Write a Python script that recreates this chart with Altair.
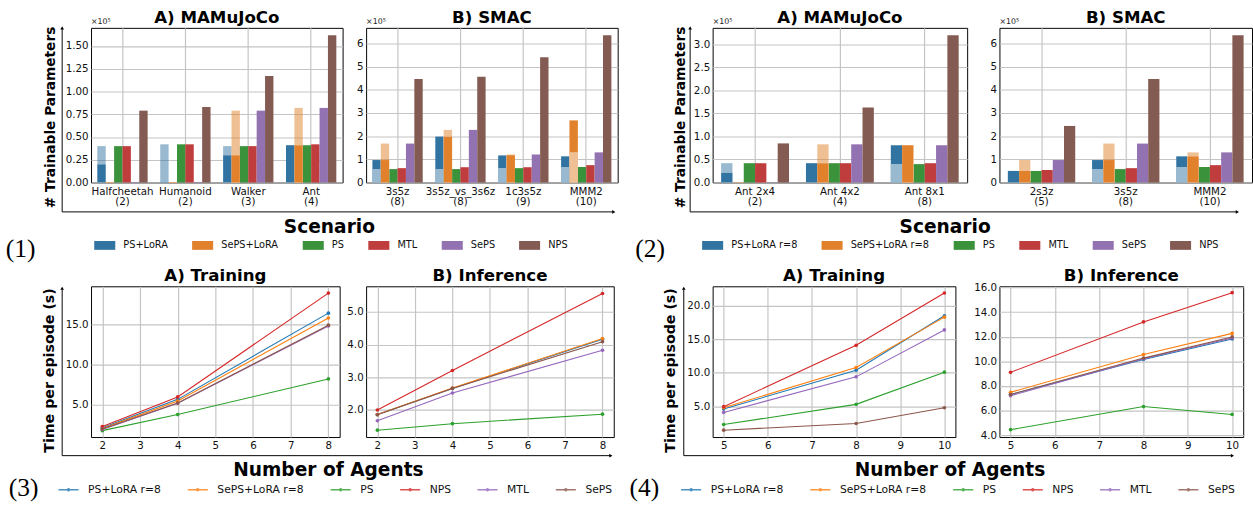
import altair as alt
import pandas as pd

FONT = "DejaVu Sans"
SERIF = "Liberation Serif"

# ---------------- data ----------------
BAR_METHODS_1 = ["PS+LoRA", "SePS+LoRA", "PS", "MTL", "SePS", "NPS"]
BAR_METHODS_2 = ["PS+LoRA r=8", "SePS+LoRA r=8", "PS", "MTL", "SePS", "NPS"]
LINE_METHODS = ["PS+LoRA r=8", "SePS+LoRA r=8", "PS", "NPS", "MTL", "SePS"]

BAR_COLORS = ["#3274a1", "#e1812c", "#3a923a", "#c03d3e", "#9372b2", "#845b53"]
LINE_COLORS = ["#1f77b4", "#ff7f0e", "#2ca02c", "#d62728", "#9467bd", "#8c564b"]

# (1) A) MAMuJoCo  (values x1e5)
S1A = ["Halfcheetah\n(2)", "Humanoid\n(2)", "Walker\n(3)", "Ant\n(4)"]
S1A_PSLORA_DARK = [0.20, 0.006, 0.30, 0.41]
S1A_PSLORA_LIGHT = [0.40, 0.42, 0.40, 0.41]
S1A_SEPSLORA_DARK = [0.006, 0.006, 0.30, 0.41]
S1A_SEPSLORA_LIGHT = [0.006, 0.006, 0.79, 0.82]
S1A_PS = [0.40, 0.42, 0.40, 0.41]
S1A_MTL = [0.40, 0.42, 0.40, 0.42]
S1A_SEPS = [0.006, 0.006, 0.79, 0.82]
S1A_NPS = [0.79, 0.83, 1.17, 1.62]

# (1) B) SMAC
S1B = ["3s5z\n(8)", "3s5z_vs_3s6z\n(8)", "1c3s5z\n(9)", "MMM2\n(10)"]
S1B_PSLORA_DARK = [0.97, 1.98, 1.17, 1.13]
S1B_PSLORA_LIGHT = [0.58, 0.58, 0.62, 0.67]
S1B_SEPSLORA_DARK = [0.97, 1.98, 1.18, 2.68]
S1B_SEPSLORA_LIGHT = [1.68, 2.27, 1.21, 1.30]
S1B_PS = [0.58, 0.58, 0.62, 0.67]
S1B_MTL = [0.62, 0.66, 0.66, 0.75]
S1B_SEPS = [1.68, 2.27, 1.21, 1.30]
S1B_NPS = [4.47, 4.56, 5.40, 6.35]

# (2) A) MAMuJoCo
S2A = ["Ant 2x4\n(2)", "Ant 4x2\n(4)", "Ant 8x1\n(8)"]
S2A_PSLORA_DARK = [0.21, 0.42, 0.81]
S2A_PSLORA_LIGHT = [0.42, 0.42, 0.40]
S2A_SEPSLORA_DARK = [0.006, 0.42, 0.81]
S2A_SEPSLORA_LIGHT = [0.006, 0.83, 0.81]
S2A_PS = [0.42, 0.42, 0.40]
S2A_MTL = [0.42, 0.42, 0.42]
S2A_SEPS = [0.006, 0.83, 0.81]
S2A_NPS = [0.85, 1.63, 3.20]

# (2) B) SMAC
S2B = ["2s3z\n(5)", "3s5z\n(8)", "MMM2\n(10)"]
S2B_PSLORA_DARK = [0.50, 0.97, 1.13]
S2B_PSLORA_LIGHT = [0.50, 0.58, 0.67]
S2B_SEPSLORA_DARK = [0.50, 0.97, 1.13]
S2B_SEPSLORA_LIGHT = [0.97, 1.68, 1.30]
S2B_PS = [0.50, 0.58, 0.67]
S2B_MTL = [0.54, 0.62, 0.75]
S2B_SEPS = [0.97, 1.68, 1.30]
S2B_NPS = [2.44, 4.47, 6.35]

# (3) time per episode, agents 2/4/8
AGENTS_3 = [2, 4, 8]
TRAIN_3 = {
    "PS+LoRA r=8": [2.10, 5.65, 16.40],
    "SePS+LoRA r=8": [2.00, 5.45, 15.80],
    "PS": [1.75, 3.75, 8.20],
    "NPS": [2.25, 5.95, 18.90],
    "MTL": [1.90, 5.15, 14.80],
    "SePS": [1.95, 5.20, 14.90],
}
INFER_3 = {
    "PS+LoRA r=8": [1.86, 2.66, 4.17],
    "SePS+LoRA r=8": [1.86, 2.67, 4.19],
    "PS": [1.38, 1.58, 1.87],
    "NPS": [2.00, 3.21, 5.57],
    "MTL": [1.67, 2.52, 3.83],
    "SePS": [1.85, 2.66, 4.09],
}
# (4) agents 5/8/10
AGENTS_4 = [5, 8, 10]
TRAIN_4 = {
    "PS+LoRA r=8": [4.60, 10.40, 18.50],
    "SePS+LoRA r=8": [4.80, 10.80, 18.30],
    "PS": [2.30, 5.30, 10.10],
    "NPS": [4.96, 14.10, 21.90],
    "MTL": [4.10, 9.40, 16.40],
    "SePS": [1.45, 2.45, 4.80],
}
INFER_4 = {
    "PS+LoRA r=8": [7.30, 10.15, 11.82],
    "SePS+LoRA r=8": [7.48, 10.55, 12.27],
    "PS": [4.44, 6.32, 5.68],
    "NPS": [9.10, 13.20, 15.58],
    "MTL": [7.20, 10.20, 11.90],
    "SePS": [7.30, 10.26, 11.98],
}

# ---------------- helpers ----------------
def bar_frame(scen, methods, psd, psl, sepsd, sepsl, ps, mtl, seps, nps):
    rows = []
    for i, s in enumerate(scen):
        for m, d, l in [(methods[0], psd[i], psl[i]), (methods[1], sepsd[i], sepsl[i])]:
            if d > l:
                back, front = ("dark", d), ("light", l)
            else:
                back, front = ("light", l), ("dark", d)
            rows.append(dict(scen=s, method=m, layer="back", shade=back[0], value=back[1]))
            rows.append(dict(scen=s, method=m, layer="front", shade=front[0], value=front[1]))
        for m, arr in zip(methods[2:], [ps, mtl, seps, nps]):
            rows.append(dict(scen=s, method=m, layer="back", shade="dark", value=arr[i]))
    return pd.DataFrame(rows)


def line_frame(agents, d):
    rows = []
    for m in LINE_METHODS:
        for a, v in zip(agents, d[m]):
            rows.append(dict(agents=a, method=m, value=v))
    return pd.DataFrame(rows)


ONE = pd.DataFrame({"k": [0]})
GRID = "#c4c4c4"


def axis_common(**kw):
    base = dict(labelFont=FONT, labelFontSize=10.5, labelColor="#111", ticks=False,
                domain=False, grid=True, gridColor=GRID, gridWidth=1.2,
                titleFont=FONT, titleColor="black", titleFontWeight="bold")
    base.update(kw)
    return alt.Axis(**base)


def panel_title(text, width):
    return alt.Chart(ONE).mark_text(font=FONT, fontSize=17, fontWeight="bold", color="black",
                                    align="center", baseline="alphabetic").encode(
        x=alt.value(width / 2), y=alt.value(-5), text=alt.value(text))


def deco(px, py, vx, vtop, hy, hend, label=None, lx=0, ly=0, anchor=False):
    """Figure decorations (arrowed axes, subfigure label) relative to panel origin."""
    layers = []
    layers.append(alt.Chart(ONE).mark_rule(color="black", strokeWidth=1).encode(
        x=alt.value(vx - px), y=alt.value(vtop - py + 3), y2=alt.value(hy - py)))
    layers.append(alt.Chart(ONE).mark_rule(color="black", strokeWidth=1).encode(
        x=alt.value(vx - px), x2=alt.value(hend - px - 3), y=alt.value(hy - py)))
    layers.append(alt.Chart(ONE).mark_point(shape="triangle-up", filled=True, color="black",
                                            size=14, opacity=1).encode(
        x=alt.value(vx - px), y=alt.value(vtop - py + 2)))
    layers.append(alt.Chart(ONE).mark_point(shape="triangle-right", filled=True, color="black",
                                            size=14, opacity=1).encode(
        x=alt.value(hend - px - 2), y=alt.value(hy - py)))
    if label:
        layers.append(alt.Chart(ONE).mark_text(font=SERIF, fontSize=26, align="left",
                                               baseline="alphabetic", color="black").encode(
            x=alt.value(lx - px), y=alt.value(ly - py), text=alt.value(label)))
    if anchor:
        layers.append(alt.Chart(ONE).mark_rule(strokeOpacity=0, color="white").encode(
            x=alt.value(-px), y=alt.value(-py), y2=alt.value(-py + 1)))
    return layers


def bar_panel(df, scen, methods, title, ymax, yticks, yfmt, width, height,
              legend=None, ytitle=None, ytitle_xy=(0, 0), xtitle=None, xtitle_xy=(0, 0),
              extra=None):
    xaxis = axis_common(labelExpr="split(datum.label, '\\n')", labelLineHeight=10.5,
                        labelPadding=4, labelAngle=0, bandPosition=0.5,
                        title=xtitle if xtitle else None, titleFontSize=19,
                        **({"titleX": xtitle_xy[0], "titleY": xtitle_xy[1],
                            "titleAnchor": "middle", "titleBaseline": "alphabetic"} if xtitle else {}))
    yaxis = axis_common(values=yticks, format=yfmt, labelPadding=3,
                        title=ytitle if ytitle else None, titleFontSize=14,
                        **({"titleX": ytitle_xy[0], "titleY": ytitle_xy[1],
                            "titleAngle": 270, "titleBaseline": "bottom",
                            "titleAlign": "center"} if ytitle else {}))
    x = alt.X("scen:N", sort=scen,
              scale=alt.Scale(domain=scen, paddingInner=0.2, paddingOuter=0.1), axis=xaxis)
    xo = alt.XOffset("method:N", sort=methods,
                     scale=alt.Scale(domain=methods, paddingInner=0, paddingOuter=0))
    y = alt.Y("value:Q", scale=alt.Scale(domain=[0, ymax], nice=False, zero=True), axis=yaxis)
    color = alt.Color("method:N", scale=alt.Scale(domain=methods, range=BAR_COLORS),
                      legend=legend)
    opac = alt.Opacity("shade:N", scale=alt.Scale(domain=["dark", "light"], range=[1.0, 0.5]),
                       legend=None)
    base = alt.Chart(df)
    back = base.transform_filter("datum.layer == 'back'").mark_bar().encode(
        x=x, xOffset=xo, y=y, color=color, opacity=opac)
    white = base.transform_filter("datum.layer == 'front'").mark_bar(color="white").encode(
        x=x, xOffset=xo, y=y)
    front = base.transform_filter("datum.layer == 'front'").mark_bar().encode(
        x=x, xOffset=xo, y=y, color=color, opacity=opac)
    offs = alt.Chart(ONE).mark_text(font=FONT, fontSize=8, align="left", baseline="alphabetic",
                                    color="#222").encode(
        x=alt.value(0), y=alt.value(-4), text=alt.value("×10⁵"))
    layers = [back, white, front, offs, panel_title(title, width)] + (extra or [])
    return alt.layer(*layers).properties(width=width, height=height)


def line_panel(df, title, xdom, xticks, ydom, yticks, width, height, legend=None,
               ytitle=None, ytitle_xy=(0, 0), xtitle=None, xtitle_xy=(0, 0), extra=None):
    xaxis = axis_common(values=xticks, format="d", labelPadding=4,
                        title=xtitle if xtitle else None, titleFontSize=19,
                        **({"titleX": xtitle_xy[0], "titleY": xtitle_xy[1],
                            "titleAnchor": "middle", "titleBaseline": "alphabetic"} if xtitle else {}))
    yaxis = axis_common(values=yticks, format=".1f", labelPadding=3,
                        title=ytitle if ytitle else None, titleFontSize=14.5,
                        **({"titleX": ytitle_xy[0], "titleY": ytitle_xy[1],
                            "titleAngle": 270, "titleBaseline": "bottom",
                            "titleAlign": "center"} if ytitle else {}))
    x = alt.X("agents:Q", scale=alt.Scale(domain=xdom, nice=False, zero=False), axis=xaxis)
    y = alt.Y("value:Q", scale=alt.Scale(domain=ydom, nice=False, zero=False), axis=yaxis)
    color = alt.Color("method:N", sort=LINE_METHODS,
                      scale=alt.Scale(domain=LINE_METHODS, range=LINE_COLORS), legend=legend)
    base = alt.Chart(df)
    lines = base.mark_line(strokeWidth=1.1).encode(x=x, y=y, color=color)
    pts = base.mark_point(filled=True, size=14, opacity=1).encode(x=x, y=y, color=color)
    layers = [lines, pts, panel_title(title, width)] + (extra or [])
    return alt.layer(*layers).properties(width=width, height=height)


def spacer(w, h):
    return alt.Chart(ONE).mark_point(opacity=0).encode(
        x=alt.X("k:Q", axis=None), y=alt.Y("k:Q", axis=None)
    ).properties(width=w, height=h, view=alt.ViewBackground(strokeOpacity=0))


BAR_SYMBOL = "M-1,-0.42H1V0.42H-1Z"
LINE_SYMBOL = "M-1,0H1M-0.1,0A0.1,0.1,0,1,1,0.1,0A0.1,0.1,0,1,1,-0.1,0"


def bar_legend(lx, ly):
    return alt.Legend(title=None, orient="none", legendX=lx, legendY=ly, direction="horizontal",
                      columns=6, symbolType=BAR_SYMBOL, symbolSize=462, symbolStrokeWidth=0,
                      symbolOpacity=1, labelFont=FONT, labelFontSize=10, labelColor="#111",
                      labelOffset=8, columnPadding=24, padding=0)


def line_legend(lx, ly):
    return alt.Legend(title=None, orient="none", legendX=lx, legendY=ly, direction="horizontal",
                      columns=6, symbolType=LINE_SYMBOL, symbolSize=420, symbolStrokeWidth=1.5,
                      symbolOpacity=0.8, symbolFillColor="transparent", labelFont=FONT,
                      labelFontSize=11, labelColor="#111", labelOffset=9, columnPadding=23,
                      padding=0)


# ---------------- layout (absolute pixel targets) ----------------
R1Y, R1H = 22, 158
R2Y, R2H = 286, 154
A1X, A1W = 92, 257
B1X, B1W = 366, 257
A2X, A2W = 713, 260
B2X, B2W = 990, 258
T3X, T3W = 89, 254
I3X, I3W = 367, 253
T4X, T4W = 717, 248
I4X, I4W = 998, 249

df1a = bar_frame(S1A, BAR_METHODS_1, S1A_PSLORA_DARK, S1A_PSLORA_LIGHT, S1A_SEPSLORA_DARK,
                 S1A_SEPSLORA_LIGHT, S1A_PS, S1A_MTL, S1A_SEPS, S1A_NPS)
df1b = bar_frame(S1B, BAR_METHODS_1, S1B_PSLORA_DARK, S1B_PSLORA_LIGHT, S1B_SEPSLORA_DARK,
                 S1B_SEPSLORA_LIGHT, S1B_PS, S1B_MTL, S1B_SEPS, S1B_NPS)
df2a = bar_frame(S2A, BAR_METHODS_2, S2A_PSLORA_DARK, S2A_PSLORA_LIGHT, S2A_SEPSLORA_DARK,
                 S2A_SEPSLORA_LIGHT, S2A_PS, S2A_MTL, S2A_SEPS, S2A_NPS)
df2b = bar_frame(S2B, BAR_METHODS_2, S2B_PSLORA_DARK, S2B_PSLORA_LIGHT, S2B_SEPSLORA_DARK,
                 S2B_SEPSLORA_LIGHT, S2B_PS, S2B_MTL, S2B_SEPS, S2B_NPS)

BAR_LEG_Y = 244 - 10.75 - R1Y
LINE_LEG_Y = 493 - 10.25 - R2Y

p1a = bar_panel(df1a, S1A, BAR_METHODS_1, "A) MAMuJoCo", 1.70,
                [0, 0.25, 0.5, 0.75, 1.0, 1.25, 1.5], ".2f", A1W, R1H,
                legend=bar_legend(3, BAR_LEG_Y), ytitle="# Trainable Parameters",
                ytitle_xy=(58 - A1X, 113 - R1Y), xtitle="Scenario",
                xtitle_xy=(335 - A1X, 231.5 - R1Y - R1H),
                extra=deco(A1X, R1Y, 62.5, 20, 210, 628, "(1)", 5, 256, anchor=True))
p1b = bar_panel(df1b, S1B, BAR_METHODS_1, "B) SMAC", 6.67, [0, 1, 2, 3, 4, 5, 6], "d",
                B1W, R1H)
p2a = bar_panel(df2a, S2A, BAR_METHODS_2, "A) MAMuJoCo", 3.36,
                [0, 0.5, 1.0, 1.5, 2.0, 2.5, 3.0], ".1f", A2W, R1H,
                legend=bar_legend(702 - A2X, BAR_LEG_Y), ytitle="# Trainable Parameters",
                ytitle_xy=(687 - A2X, 113 - R1Y), xtitle="Scenario",
                xtitle_xy=(950 - A2X, 231.5 - R1Y - R1H),
                extra=deco(A2X, R1Y, 690, 20, 210, 1251, "(2)", 634, 256))
p2b = bar_panel(df2b, S2B, BAR_METHODS_2, "B) SMAC", 6.67, [0, 1, 2, 3, 4, 5, 6], "d",
                B2W, R1H)

t3 = line_panel(line_frame(AGENTS_3, TRAIN_3), "A) Training", [1.7, 8.3], [2, 3, 4, 5, 6, 7, 8],
                [0.95, 19.75], [5, 10, 15], T3W, R2H, legend=line_legend(55 - T3X, LINE_LEG_Y),
                ytitle="Time per episode (s)", ytitle_xy=(54 - T3X, 371.5 - R2Y),
                xtitle="Number of Agents", xtitle_xy=(331 - T3X, 479 - R2Y - R2H),
                extra=deco(T3X, R2Y, 59.5, 286, 459, 622, "(3)", 5, 500))
i3 = line_panel(line_frame(AGENTS_3, INFER_3), "B) Inference", [1.7, 8.3], [2, 3, 4, 5, 6, 7, 8],
                [1.17, 5.79], [2, 3, 4, 5], I3W, R2H)
t4 = line_panel(line_frame(AGENTS_4, TRAIN_4), "A) Training", [4.75, 10.25], [5, 6, 7, 8, 9, 10],
                [0.43, 22.9], [5, 10, 15, 20], T4W, R2H, legend=line_legend(684 - T4X, LINE_LEG_Y),
                ytitle="Time per episode (s)", ytitle_xy=(681 - T4X, 371.5 - R2Y),
                xtitle="Number of Agents", xtitle_xy=(959 - T4X, 479 - R2Y - R2H),
                extra=deco(T4X, R2Y, 687.5, 286, 459, 1250, "(4)", 632, 500))
i4 = line_panel(line_frame(AGENTS_4, INFER_4), "B) Inference", [4.75, 10.25], [5, 6, 7, 8, 9, 10],
                [3.84, 16.1], [4, 6, 8, 10, 12, 14, 16], I4W, R2H)

OX = 88  # absolute x of concat origin (set by invisible anchor)
row1 = [spacer(A1X - OX, R1H), p1a, spacer(B1X - A1X - A1W, R1H), p1b,
        spacer(A2X - B1X - B1W, R1H), p2a, spacer(B2X - A2X - A2W, R1H), p2b]
row2 = [spacer(T3X - OX, R2H), t3, spacer(I3X - T3X - T3W, R2H), i3,
        spacer(T4X - I3X - I3W, R2H), t4, spacer(I4X - T4X - T4W, R2H), i4]

chart = alt.concat(*(row1 + row2), columns=8, spacing={"row": R2Y - R1Y - R1H, "column": 0},
                   bounds="flush", align={"row": "each", "column": "none"}).resolve_scale(
    color="independent", opacity="independent", xOffset="independent").resolve_legend(
    color="independent").properties(
    padding=0, background="white").configure_view(stroke="black", strokeWidth=1)

chart.save("out.html", embed_options={"renderer": "svg", "actions": False})
